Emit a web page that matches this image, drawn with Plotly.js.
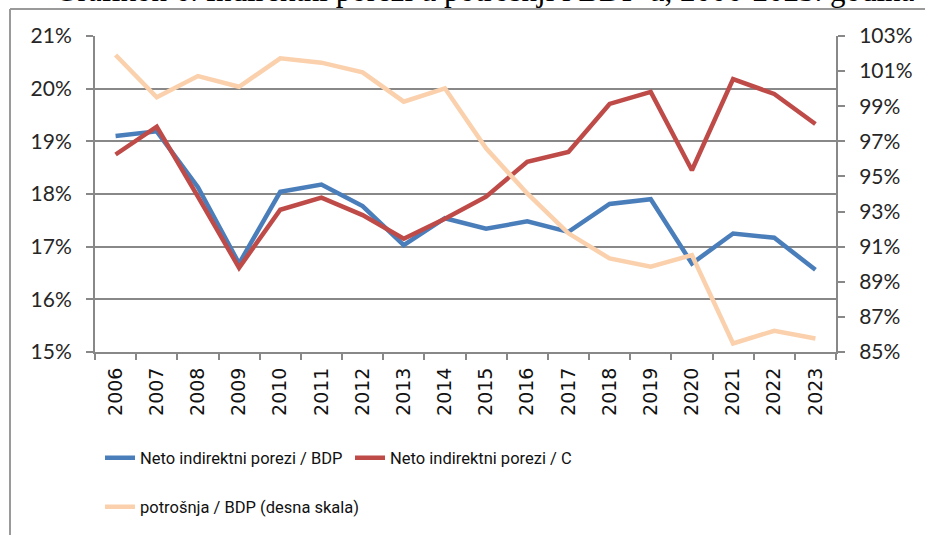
<!DOCTYPE html>
<html>
<head>
<meta charset="utf-8">
<script src="https://cdn.plot.ly/plotly-3.0.1.min.js"></script>
<style>
  html, body { margin: 0; padding: 0; background: #ffffff; }
  #chart { width: 925px; height: 535px; }
</style>
</head>
<body>
<div id="chart"></div>
<script>
// ---- data ----
const years = ["2006","2007","2008","2009","2010","2011","2012","2013","2014",
               "2015","2016","2017","2018","2019","2020","2021","2022","2023"];
const netoBDP = [19.10, 19.19, 18.13, 16.68, 18.04, 18.18, 17.77, 17.03, 17.54,
                 17.34, 17.48, 17.28, 17.81, 17.90, 16.68, 17.25, 17.17, 16.56];
const netoC   = [18.75, 19.28, 17.95, 16.60, 17.70, 17.93, 17.60, 17.15, 17.53,
                 17.95, 18.61, 18.80, 19.71, 19.94, 18.45, 20.18, 19.90, 19.33];
const potrosnjaBDP = [101.92, 99.51, 100.72, 100.11, 101.73, 101.48, 100.93, 99.26, 100.02,
                      96.60, 94.03, 91.76, 90.33, 89.86, 90.52, 85.49, 86.21, 85.77];
const leftTicks  = [15, 16, 17, 18, 19, 20, 21];
const rightTicks = [85, 87, 89, 91, 93, 95, 97, 99, 101, 103];
const seriesNames = ["Neto indirektni porezi / BDP", "Neto indirektni porezi / C",
                     "potrošnja / BDP (desna skala)"];
const titleText = "Grafikon 6. Indirektni porezi u potrošnji i BDP-u, 2006-2023. godina";

// ---- layout constants ----
const W = 925, H = 535;
const plotL = 95, plotR = 836, plotT = 36, plotB = 352;
const gridCol = "#888888";
const txtCol = "#262626";
const legendFont = { family: "Roboto, sans-serif", size: 16.5, color: "#111111" };

const traces = [
  { x: years, y: netoBDP, name: seriesNames[0], type: "scatter", mode: "lines",
    line: { color: "#4A7EBB", width: 4.5 }, yaxis: "y", legend: "legend", hoverinfo: "skip" },
  { x: years, y: netoC, name: seriesNames[1], type: "scatter", mode: "lines",
    line: { color: "#BE4B48", width: 4.5 }, yaxis: "y", legend: "legend", hoverinfo: "skip" },
  { x: years, y: potrosnjaBDP, name: seriesNames[2], type: "scatter", mode: "lines",
    line: { color: "#FAD1AC", width: 4.5 }, yaxis: "y2", legend: "legend2", hoverinfo: "skip" }
];

const pxToPaperX = px => (px - plotL) / (plotR - plotL);
const pxToPaperY = py => (plotB - py) / (plotB - plotT);

const layout = {
  width: W, height: H,
  paper_bgcolor: "#ffffff", plot_bgcolor: "#ffffff",
  margin: { l: plotL, r: W - plotR, t: plotT, b: H - plotB, pad: 0 },
  showlegend: true,
  annotations: [
    { text: titleText, showarrow: false,
      font: { family: "Liberation Serif, Times New Roman, serif", size: 31, color: "#000000" },
      xref: "paper", yref: "paper",
      x: pxToPaperX(485), xanchor: "center",
      y: pxToPaperY(-9), yanchor: "middle" }
  ],
  xaxis: {
    type: "category",
    range: [-0.5, years.length - 0.5],
    tickson: "boundaries",
    ticks: "outside", ticklen: 6, tickwidth: 2, tickcolor: gridCol,
    showline: true, linecolor: gridCol, linewidth: 2,
    showgrid: false, zeroline: false,
    tickangle: -90,
    ticklabelstandoff: 6,
    tickfont: { family: "DejaVu Sans, sans-serif", size: 19, color: "#111111" },
    fixedrange: true
  },
  yaxis: {
    range: [15, 21],
    tickvals: leftTicks,
    ticktext: leftTicks.map(v => v + "%"),
    ticks: "outside", ticklen: 7, tickwidth: 2, tickcolor: gridCol,
    showline: true, linecolor: gridCol, linewidth: 2,
    showgrid: true, gridcolor: gridCol, gridwidth: 2,
    zeroline: false,
    ticklabelstandoff: 10,
    tickfont: { family: "Lato, sans-serif", size: 21, color: txtCol },
    fixedrange: true
  },
  yaxis2: {
    range: [85, 103],
    tickvals: rightTicks,
    ticktext: rightTicks.map(v => v + "%"),
    overlaying: "y", side: "right",
    ticks: "outside", ticklen: 7, tickwidth: 2, tickcolor: gridCol,
    showline: true, linecolor: gridCol, linewidth: 2,
    showgrid: false, zeroline: false,
    ticklabelstandoff: 10,
    tickfont: { family: "Lato, sans-serif", size: 21, color: txtCol },
    fixedrange: true
  },
  legend: {
    orientation: "h",
    xref: "container", yref: "container",
    x: 100 / W, xanchor: "left",
    y: 1 - 458 / H, yanchor: "middle",
    entrywidth: 205, entrywidthmode: "pixels",
    font: legendFont,
    bgcolor: "rgba(0,0,0,0)"
  },
  legend2: {
    orientation: "h",
    xref: "container", yref: "container",
    x: 100 / W, xanchor: "left",
    y: 1 - 507 / H, yanchor: "middle",
    font: legendFont,
    bgcolor: "rgba(0,0,0,0)"
  },
  shapes: [
    { type: "line", xref: "paper", yref: "paper", x0: pxToPaperX(10), x1: 1.2, y0: pxToPaperY(9), y1: pxToPaperY(9),
      line: { color: "#9a9a9a", width: 2 } },
    { type: "line", xref: "paper", yref: "paper", x0: pxToPaperX(10), x1: pxToPaperX(10), y0: pxToPaperY(9), y1: -1,
      line: { color: "#9a9a9a", width: 2 } }
  ]
};

Plotly.newPlot("chart", traces, layout, { displayModeBar: false, staticPlot: true });
</script>
</body>
</html>
